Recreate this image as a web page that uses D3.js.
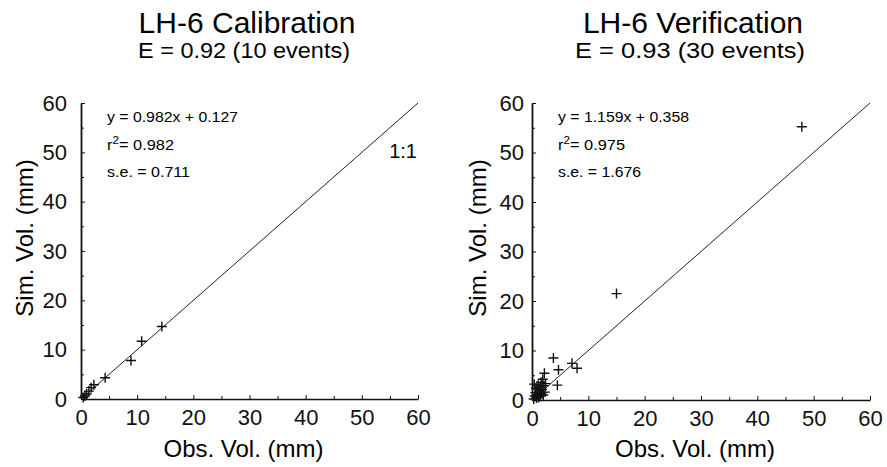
<!DOCTYPE html>
<html lang="en">
<head>
    <meta charset="UTF-8">
    <script src="https://d3js.org/d3.v7.min.js" charset="utf-8"></script>
    <title>LH-6 Calibration / Verification</title>
    <style>
        body { margin: 0; background: #fff; }
        svg { display: block; font-family: "Liberation Sans", Arial, sans-serif; }
        .axis path, .axis line { stroke: #111; }
        .axis text { font-size: 22px; fill: #111; }
    </style>
</head>
<body>
    <div class="fig"></div>

    <script>
        const svgWidth = 887;
        const svgHeight = 467;

        // tick values shared by both panels
        const majorTicks = [0, 10, 20, 30, 40, 50, 60];
        const minorTicks = [5, 15, 25, 35, 45, 55];

        // calibration events (obs, sim)
        const calObs = [14.4, 10.8, 8.9, 4.3, 2.3, 1.8, 1.4, 1.0, 0.7, 0.4];
        const calSim = [14.7, 11.7, 7.8, 4.3, 2.9, 2.3, 1.6, 1.0, 0.6, 0.3];

        // verification events
        const verObs = [47.9, 15.0, 3.8, 7.1, 8.0, 4.7, 4.5, 2.2,
            0.3, 0.5, 0.6, 0.8, 0.9, 1.0, 1.1, 1.2, 1.3, 1.4, 1.5,
            1.6, 1.7, 1.8, 1.9, 2.0, 2.1, 2.3, 2.4, 1.2, 0.4, 0.7];
        const verSim = [55.2, 21.5, 8.5, 7.4, 6.4, 6.1, 3.0, 5.4,
            0.2, 0.8, 1.5, 0.4, 2.2, 1.1, 3.0, 0.6, 1.8, 2.6, 0.9,
            3.6, 1.4, 2.1, 4.2, 1.0, 2.9, 1.6, 3.3, 0.5, 3.2, 2.4];

        const calStats = ["y = 0.982x + 0.127", "0.982", "s.e. = 0.711"];
        const verStats = ["y = 1.159x + 0.358", "0.975", "s.e. = 1.676"];

        const svg = d3.select(".fig").append("svg")
            .attr("width", svgWidth)
            .attr("height", svgHeight);

        const drawPanel = (opts) => {
            const g = svg.append("g");

            const x = d3.scaleLinear().domain([0, 60]).range([opts.x0, opts.x1]);
            const y = d3.scaleLinear().domain([0, 60]).range([opts.y0, opts.y1]);

            // titles
            g.append("text")
                .attr("x", opts.cx).attr("y", 33)
                .attr("text-anchor", "middle")
                .style("font-size", "30px")
                .text(opts.title);
            g.append("text")
                .attr("x", opts.cx - 3).attr("y", 58)
                .attr("text-anchor", "middle")
                .attr("textLength", opts.subW)
                .attr("lengthAdjust", "spacingAndGlyphs")
                .style("font-size", "22px")
                .text(opts.subtitle);

            // axes: major ticks with labels, minor ticks without, all pointing inward
            g.append("g").attr("class", "axis")
                .attr("transform", `translate(0,${opts.y0})`)
                .call(d3.axisBottom(x).tickValues(majorTicks).tickSize(-4).tickPadding(10).tickSizeOuter(0))
                .call(a => a.select(".domain").attr("stroke-width", 1.5));
            g.append("g").attr("class", "axis")
                .attr("transform", `translate(0,${opts.y0})`)
                .call(d3.axisBottom(x).tickValues(minorTicks).tickSize(-3).tickFormat("").tickSizeOuter(0))
                .call(a => a.select(".domain").remove());

            g.append("g").attr("class", "axis")
                .attr("transform", `translate(${opts.x0},0)`)
                .call(d3.axisLeft(y).tickValues(majorTicks).tickSize(-4).tickPadding(opts.yPad).tickSizeOuter(0))
                .call(a => a.select(".domain").attr("stroke-width", 1.8));
            g.append("g").attr("class", "axis")
                .attr("transform", `translate(${opts.x0},0)`)
                .call(d3.axisLeft(y).tickValues(minorTicks).tickSize(-3).tickFormat("").tickSizeOuter(0))
                .call(a => a.select(".domain").remove());

            // axis titles
            g.append("text")
                .attr("x", (opts.x0 + opts.x1) / 2 - 6).attr("y", 457)
                .attr("text-anchor", "middle")
                .style("font-size", "24px")
                .text("Obs. Vol. (mm)");
            g.append("text")
                .attr("transform", `translate(${opts.labX},238) rotate(-90)`)
                .attr("text-anchor", "middle")
                .attr("dy", "0.35em")
                .style("font-size", "24px")
                .text("Sim. Vol. (mm)");

            // 1:1 line
            g.append("line")
                .attr("x1", x(0)).attr("y1", y(0))
                .attr("x2", x(60)).attr("y2", y(60))
                .attr("stroke", "#222")
                .attr("stroke-width", 1);

            // events as crosses
            const pts = opts.obs.map((o, i) => ({ o: o, s: opts.sim[i] }));
            const cross = 5;
            g.selectAll("path.pt")
                .data(pts)
                .enter()
                .append("path")
                .attr("class", "pt")
                .attr("d", d => {
                    const px = x(d.o), py = y(d.s);
                    return `M${px - cross},${py}H${px + cross}M${px},${py - cross}V${py + cross}`;
                })
                .attr("stroke", "#111")
                .attr("stroke-width", 1.4)
                .attr("fill", "none");

            // regression stats
            const tx = opts.x0 + 26;
            g.append("text").attr("x", tx).attr("y", 122)
                .attr("textLength", 131).attr("lengthAdjust", "spacingAndGlyphs")
                .style("font-size", "14px").text(opts.stats[0]);
            const r2 = g.append("text").attr("x", tx).attr("y", 150)
                .attr("textLength", 67).attr("lengthAdjust", "spacingAndGlyphs")
                .style("font-size", "14px");
            r2.append("tspan").text("r");
            r2.append("tspan").attr("dy", -6).style("font-size", "10px").text("2");
            r2.append("tspan").attr("dy", 6).text("= " + opts.stats[1]);
            g.append("text").attr("x", tx).attr("y", 177)
                .attr("textLength", 83).attr("lengthAdjust", "spacingAndGlyphs")
                .style("font-size", "14px").text(opts.stats[2]);

            if (opts.oneToOne) {
                g.append("text")
                    .attr("x", 417).attr("y", 158)
                    .attr("text-anchor", "end")
                    .style("font-size", "20px")
                    .text("1:1");
            }
        };

        drawPanel({
            title: "LH-6 Calibration", subtitle: "E = 0.92 (10 events)", cx: 247, subW: 212,
            x0: 81, x1: 418, y0: 399, y1: 103, yPad: 14, labX: 25,
            obs: calObs, sim: calSim, stats: calStats, oneToOne: true
        });

        drawPanel({
            title: "LH-6 Verification", subtitle: "E = 0.93 (30 events)", cx: 693, subW: 230,
            x0: 532, x1: 870, y0: 400, y1: 103, yPad: 8, labX: 478,
            obs: verObs, sim: verSim, stats: verStats, oneToOne: false
        });
    </script>
</body>
</html>
